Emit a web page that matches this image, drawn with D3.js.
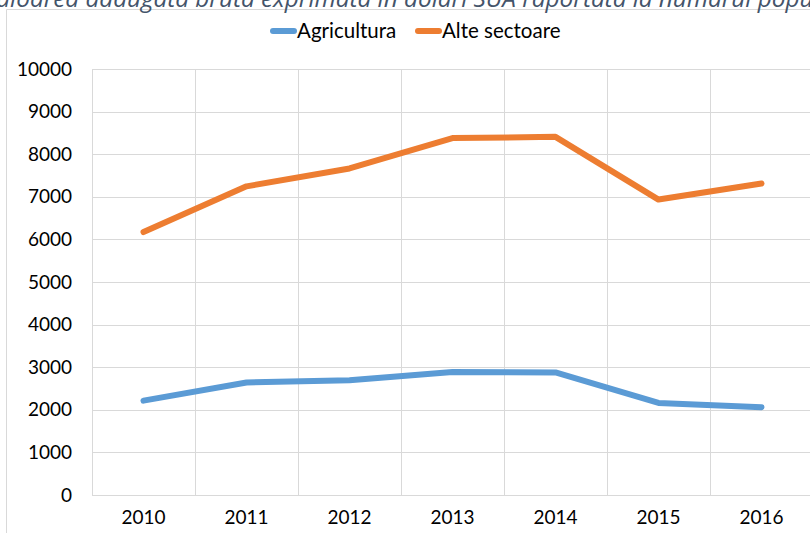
<!DOCTYPE html>
<html lang="ro">
<head>
<meta charset="UTF-8">
<title>Valoarea adăugată brută</title>
<script src="https://cdn.jsdelivr.net/npm/d3@7"></script>
<style>
body { margin: 0; background: #fff; }
svg { display: block; font-family: 'Lato', sans-serif; }
</style>
</head>
<body>
<svg width="810" height="533"></svg>
<script>
// data (USD per inhabitant)
const years = ["2010", "2011", "2012", "2013", "2014", "2015", "2016"];
const agricultura = [2215, 2640, 2695, 2890, 2878, 2162, 2062];
const alteSectoare = [6171, 7245, 7665, 8378, 8408, 6935, 7312];
const yTicks = [0, 1000, 2000, 3000, 4000, 5000, 6000, 7000, 8000, 9000, 10000];

const series = [
    { name: "Agricultura", values: agricultura, color: "#5b9bd5" },
    { name: "Alte sectoare", values: alteSectoare, color: "#ed7d31" }
];

const svg = d3.select("svg");
const grid = "#d9d9d9";

// chart frame
svg.append("path")
    .attr("d", "M6.5,540V9.5H820")
    .attr("fill", "none").attr("stroke", grid);

// title of the document, cut by the crop
svg.append("text")
    .attr("x", -17).attr("y", 7)
    .attr("font-family", "'Open Sans', sans-serif")
    .attr("font-style", "italic")
    .attr("font-size", 24.3)
    .attr("fill", "#44546a")
    .text("Valoarea adăugată brută exprimată în dolari SUA raportată la numărul populației");

const x = d3.scaleBand().domain(years).range([92, 813]);
const y = d3.scaleLinear().domain([0, 10000]).range([495, 69]);

// horizontal gridlines
svg.append("g").attr("transform", "translate(92,0)")
    .call(d3.axisLeft(y).tickValues(yTicks).tickSize(-(813 - 92)).tickFormat(""))
    .call(g => g.select(".domain").remove())
    .call(g => g.selectAll("line").attr("stroke", grid).attr("shape-rendering", "crispEdges"));

// vertical gridlines on the category boundaries
svg.append("g").selectAll("line")
    .data(years.concat(["end"]))
    .join("line")
    .attr("x1", (d, i) => 92 + i * x.step()).attr("x2", (d, i) => 92 + i * x.step())
    .attr("y1", y(10000)).attr("y2", y(0))
    .attr("stroke", grid).attr("shape-rendering", "crispEdges");

// y labels
svg.append("g").attr("transform", "translate(72,0)")
    .call(d3.axisLeft(y).tickValues(yTicks).tickSize(0).tickPadding(0).tickFormat(d3.format("d")))
    .call(g => g.select(".domain").remove())
    .call(g => g.selectAll("text")
        .attr("font-family", "Lato, sans-serif").attr("font-size", 19)
        .attr("fill", "#000"));

// x labels
svg.append("g").attr("transform", "translate(0,510)")
    .call(d3.axisBottom(x).tickSize(0).tickPadding(0))
    .call(g => g.select(".domain").remove())
    .call(g => g.selectAll("text")
        .attr("font-family", "Lato, sans-serif").attr("font-size", 19)
        .attr("fill", "#000"));

// lines
const line = d3.line()
    .x((d, i) => x(years[i]) + x.bandwidth() / 2)
    .y(d => y(d));

svg.append("g").selectAll("path")
    .data(series)
    .join("path")
    .attr("d", d => line(d.values))
    .attr("fill", "none")
    .attr("stroke", d => d.color)
    .attr("stroke-width", 6)
    .attr("stroke-linecap", "round")
    .attr("stroke-linejoin", "round");

// legend
const legendX = [271, 416];
const legend = svg.append("g").selectAll("g")
    .data(series)
    .join("g")
    .attr("transform", (d, i) => `translate(${legendX[i]},31)`);

legend.append("line")
    .attr("x1", 2).attr("x2", 23)
    .attr("stroke", d => d.color)
    .attr("stroke-width", 6)
    .attr("stroke-linecap", "round");

legend.append("text")
    .attr("x", 26).attr("y", 7)
    .attr("font-size", 20.5)
    .attr("fill", "#000")
    .text(d => d.name);
</script>
</body>
</html>
